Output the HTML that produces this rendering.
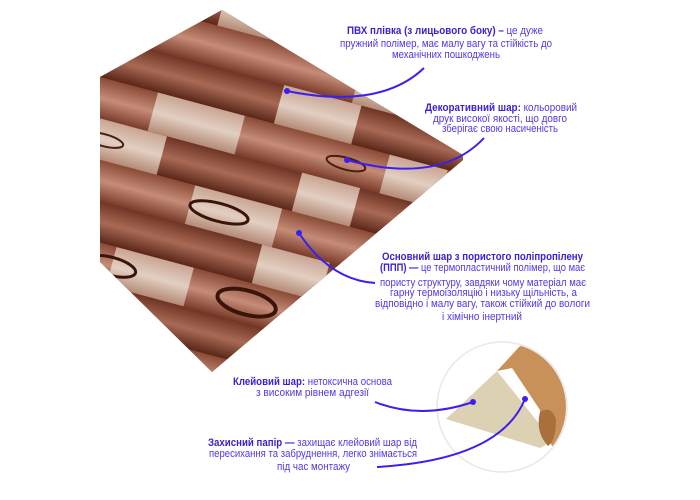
<!DOCTYPE html>
<html><head><meta charset="utf-8"><style>
html,body{margin:0;padding:0;background:#fff;width:700px;height:500px;overflow:hidden;}
svg{display:block;}
text{font-family:"Liberation Sans",sans-serif;font-size:11px;fill:#5236e6;}
.b{font-weight:bold;fill:#3a1fcf;}
</style></head><body>
<svg width="700" height="500" viewBox="0 0 700 500" xmlns="http://www.w3.org/2000/svg">
<defs>
<clipPath id="panel"><polygon points="222,10 463,155 463,160 212,372 100,262 100,77"/></clipPath>
<clipPath id="circ"><circle cx="502" cy="407" r="64"/></clipPath>
<linearGradient id="g1" x1="0" y1="0" x2="0" y2="1"><stop offset="0" stop-color="#6e3424"/><stop offset="0.5" stop-color="#a86a55"/><stop offset="1" stop-color="#5a2618"/></linearGradient>
<linearGradient id="g2" x1="0" y1="0" x2="0" y2="1"><stop offset="0" stop-color="#c9a593"/><stop offset="0.5" stop-color="#e2cfc2"/><stop offset="1" stop-color="#b48a76"/></linearGradient>
<linearGradient id="g3" x1="0" y1="0" x2="0" y2="1"><stop offset="0" stop-color="#8a4a36"/><stop offset="0.5" stop-color="#c58c78"/><stop offset="1" stop-color="#7a3c2a"/></linearGradient>
</defs>
<g clip-path="url(#panel)">
<rect x="80" y="0" width="400" height="400" fill="#91533f"/>
<g transform="translate(100,77) rotate(15)">
<rect x="-200" y="-120" width="800" height="40" fill="url(#g1)"/>
<rect x="100" y="-120" width="90" height="40" fill="url(#g2)"/>
<rect x="-200" y="-80" width="800" height="40" fill="url(#g3)"/>
<rect x="250" y="-80" width="90" height="40" fill="url(#g2)"/>
<rect x="-200" y="-40" width="800" height="40" fill="url(#g1)"/>
<rect x="180" y="-40" width="80" height="40" fill="url(#g2)"/>
<rect x="-200" y="0" width="800" height="40" fill="url(#g3)"/>
<rect x="60" y="0" width="90" height="40" fill="url(#g2)"/>
<rect x="300" y="0" width="60" height="40" fill="url(#g2)"/>
<rect x="-200" y="40" width="800" height="40" fill="url(#g1)"/>
<rect x="-20" y="40" width="100" height="40" fill="url(#g2)"/>
<rect x="220" y="40" width="60" height="40" fill="url(#g2)"/>
<rect x="-200" y="80" width="800" height="40" fill="url(#g3)"/>
<rect x="120" y="80" width="90" height="40" fill="url(#g2)"/>
<rect x="-200" y="120" width="800" height="40" fill="url(#g1)"/>
<rect x="-60" y="120" width="90" height="40" fill="url(#g2)"/>
<rect x="200" y="120" width="70" height="40" fill="url(#g2)"/>
<rect x="-200" y="160" width="800" height="40" fill="url(#g3)"/>
<rect x="60" y="160" width="80" height="40" fill="url(#g2)"/>
<rect x="-200" y="200" width="800" height="40" fill="url(#g1)"/>
<rect x="-200" y="240" width="800" height="40" fill="url(#g3)"/>
<rect x="-200" y="280" width="800" height="60" fill="url(#g1)"/>
<ellipse cx="150" cy="100" rx="30" ry="9" fill="none" stroke="#3a1408" stroke-width="3"/>
<ellipse cx="60" cy="180" rx="25" ry="9" fill="none" stroke="#3a1408" stroke-width="3"/>
<ellipse cx="200" cy="180" rx="30" ry="12" fill="none" stroke="#3a1408" stroke-width="4"/>
<ellipse cx="20" cy="60" rx="20" ry="6" fill="none" stroke="#4a1c10" stroke-width="2"/>
<ellipse cx="260" cy="20" rx="20" ry="6" fill="none" stroke="#4a1c10" stroke-width="2"/>
</g>
</g>
<circle cx="502" cy="407" r="65" fill="#fff" stroke="#e8e8e8" stroke-width="1.5"/>
<g clip-path="url(#circ)">
<polygon points="446,419 497,371 553,441 540,448" fill="#ddd1b4"/>
<path d="M497,371 L520,346 Q560,350 568,400 Q565,440 553,447 Q540,430 540,410 Q530,395 512,368 Z" fill="#c8915a"/>
<path d="M540,412 Q552,405 556,420 Q556,440 548,446 Q535,432 540,412 Z" fill="#a9703e"/>
</g>
<g fill="none" stroke="#3b1ff0" stroke-width="2">
<path d="M287,91 Q380,110 424,68"/>
<path d="M347,160 Q440,185 484,138"/>
<path d="M299,233 Q330,280 375,283"/>
<path d="M375,402 Q420,420 473,402"/>
<path d="M525,399 Q500,460 377,467"/>
</g>
<g fill="#3b1ff0"><circle cx="287" cy="91" r="3"/><circle cx="347" cy="160" r="3"/><circle cx="299" cy="233" r="3"/><circle cx="473" cy="402" r="3"/><circle cx="525" cy="399" r="3"/></g>
<g text-anchor="start">
<text x="347" y="34" textLength="196" lengthAdjust="spacingAndGlyphs"><tspan class="b">ПВХ плівка (з лицьового боку) –</tspan> це дуже</text>
<text x="340" y="47" textLength="212" lengthAdjust="spacingAndGlyphs">пружний полімер, має малу вагу та стійкість до</text>
<text x="392" y="58" textLength="108" lengthAdjust="spacingAndGlyphs">механічних пошкоджень</text>
<text x="425" y="111" textLength="152" lengthAdjust="spacingAndGlyphs"><tspan class="b">Декоративний шар:</tspan>  кольоровий</text>
<text x="433" y="122" textLength="134" lengthAdjust="spacingAndGlyphs">друк високої якості, що довго</text>
<text x="442" y="132" textLength="116" lengthAdjust="spacingAndGlyphs">зберігає свою насиченість</text>
<text x="382" y="260" textLength="201" lengthAdjust="spacingAndGlyphs" class="b">Основний шар з пористого поліпропілену</text>
<text x="380" y="271" textLength="205" lengthAdjust="spacingAndGlyphs"><tspan class="b">(ППП) —</tspan> це термопластичний полімер, що має</text>
<text x="380" y="286" textLength="206" lengthAdjust="spacingAndGlyphs">пористу структуру, завдяки чому матеріал має</text>
<text x="390" y="296" textLength="187" lengthAdjust="spacingAndGlyphs">гарну термоізоляцію і низьку щільність, а</text>
<text x="375" y="307" textLength="215" lengthAdjust="spacingAndGlyphs">відповідно і малу вагу, також стійкий до вологи</text>
<text x="442" y="320" textLength="80" lengthAdjust="spacingAndGlyphs">і хімічно інертний</text>
<text x="233" y="385" textLength="159" lengthAdjust="spacingAndGlyphs"><tspan class="b">Клейовий шар:</tspan> нетоксична основа</text>
<text x="256" y="396" textLength="113" lengthAdjust="spacingAndGlyphs">з високим рівнем адгезії</text>
<text x="208" y="446" textLength="209" lengthAdjust="spacingAndGlyphs"><tspan class="b">Захисний папір —</tspan> захищає клейовий шар від</text>
<text x="209" y="457" textLength="208" lengthAdjust="spacingAndGlyphs">пересихання та забруднення, легко знімається</text>
<text x="277" y="470" textLength="73" lengthAdjust="spacingAndGlyphs">під час монтажу</text>
</g>
</svg>
</body></html>
